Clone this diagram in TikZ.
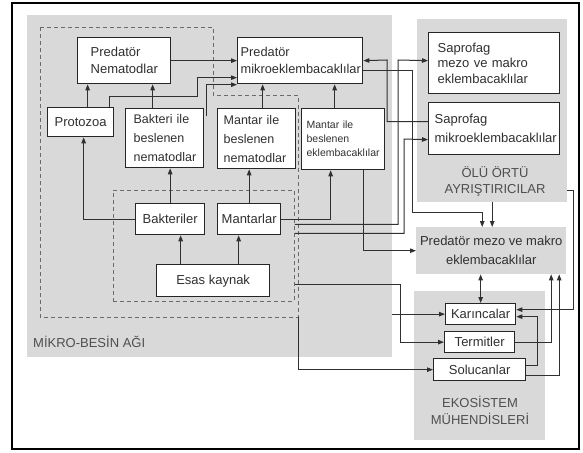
\documentclass[tikz,border=0pt]{standalone}
\usepackage{fontspec}
\setmainfont{Liberation Sans}
\usepackage{xcolor}
\usetikzlibrary{arrows.meta, positioning, calc}
\definecolor{webGray}{HTML}{D9D9D9}
\definecolor{inkDark}{HTML}{303030}
\definecolor{dashGray}{HTML}{6A6A6A}
\hyphenpenalty=10000
\exhyphenpenalty=10000
\tikzset{
    region_gray/.style={
        rectangle, fill=webGray, draw=none, inner sep=0pt, anchor=north west
    },
    box_plain/.style={
        rectangle, draw=black!85, line width=1.3pt, fill=white,
        anchor=north west, inner sep=0pt, align=center, text=inkDark,
        font=\fontsize{13}{17}\selectfont
    },
    box_left/.style={
        box_plain, align=left, inner xsep=#1
    },
    web_dash/.style={
        dash pattern=on 4pt off 3pt, draw=dashGray, line width=0.9pt
    },
    region_text/.style={
        text=inkDark!85, font=\fontsize{13}{17}\selectfont, align=center, inner sep=0pt
    },
    flow_arrow/.style={
        -{Triangle[length=6pt,width=4.5pt]}, line width=1pt, draw=inkDark
    },
    flow_both/.style={
        {Triangle[length=6pt,width=4.5pt]}-{Triangle[length=6pt,width=4.5pt]}, line width=1pt, draw=inkDark
    }
}

\begin{document}
\begin{tikzpicture}[x=1pt, y=-1pt]
    \useasboundingbox (0,0) rectangle (583,452);

    % Gray areas
    \node[region_gray, minimum width=365pt, minimum height=342pt] (mikro) at (27,15) {};
    \node[region_gray, minimum width=150pt, minimum height=183pt] (olu) at (417,19) {};
    \node[region_gray, minimum width=131pt, minimum height=149pt] (eko) at (414,291) {};

    % Dashed groups
    \draw[web_dash] (40,27) -- (213,27) -- (213,95) -- (298,95) -- (298,317) coordinate (webcorner) -- (40,317) -- cycle;
    \node[region_gray, fill=none, web_dash, minimum width=181pt, minimum height=111pt] (base) at (113,190) {};

    % Micro food web
    \node[box_left=13pt, text width=67pt, minimum width=93pt, minimum height=46pt] (pnem) at (77,37) {Predatör\\Nematodlar};
    \node[box_left=3pt, text width=119pt, minimum width=125pt, minimum height=46pt, font=\fontsize{12.8}{17}\selectfont] (pmik) at (237,37) {Predatör\\mikroeklembacaklılar};
    \node[box_plain, minimum width=66pt, minimum height=29pt] (proto) at (47,107) {Protozoa};
    \node[box_left=8pt, text width=62pt, minimum width=78pt, minimum height=59pt, font=\fontsize{12.5}{19}\selectfont] (bnem) at (125,108) {Bakteri ile\\beslenen\\nematodlar};
    \node[box_left=6pt, text width=66pt, minimum width=78pt, minimum height=60pt, font=\fontsize{12.5}{19}\selectfont] (mnem) at (217,108) {Mantar ile\\beslenen\\nematodlar};
    \node[box_left=5pt, text width=73pt, minimum width=83pt, minimum height=61pt, font=\fontsize{10.5}{14}\selectfont] (mekl) at (301,108) {Mantar ile\\beslenen\\eklembacaklılar};
    \node[box_plain, minimum width=69pt, minimum height=31pt] (bakt) at (135,203) {Bakteriler};
    \node[box_plain, minimum width=63pt, minimum height=31pt] (mant) at (217,203) {Mantarlar};
    \node[box_plain, minimum width=113pt, minimum height=32pt] (esas) at (156,264) {Esas kaynak};
    \node[region_text, anchor=west] (mikrolbl) at (33,342) {MİKRO-BESİN AĞI};

    % Litter decomposers
    \node[box_left=9pt, text width=113pt, minimum width=131pt, minimum height=61pt, font=\fontsize{13}{15.5}\selectfont] (smezo) at (428,32) {Saprofag\\mezo ve makro\\eklembacaklılar};
    \node[box_left=6pt, text width=119pt, minimum width=131pt, minimum height=52pt, font=\fontsize{13}{19}\selectfont] (smik) at (428,102) {Saprofag\\mikroeklembacaklılar};
    \node[region_text, font=\fontsize{13}{16}\selectfont] (olulbl) at (495,181) {ÖLÜ ÖRTÜ\\AYRIŞTIRICILAR};

    % Predators and ecosystem engineers
    \node[region_gray, minimum width=150pt, minimum height=47pt, align=center, text=inkDark, font=\fontsize{13}{19}\selectfont] (pmezo) at (416,227) {Predatör mezo ve makro\\eklembacaklılar};
    \node[box_plain, minimum width=70pt, minimum height=21pt] (kar) at (445,303) {Karıncalar};
    \node[box_plain, minimum width=70pt, minimum height=21pt] (term) at (444,331) {Termitler};
    \node[box_plain, minimum width=92pt, minimum height=22pt] (soluc) at (433,358) {Solucanlar};
    \node[region_text, font=\fontsize{13}{17}\selectfont] (ekolbl) at (480,410) {EKOSİSTEM\\MÜHENDİSLERİ};

    % Straight links inside the web
    \draw[flow_arrow] ([xshift=7pt]proto.north) -- ([xshift=7pt]proto.north |- pnem.south);
    \draw[flow_arrow] ([xshift=-12pt]bnem.north) -- ([xshift=-12pt]bnem.north |- pnem.south);
    \draw[flow_arrow] (pnem.east) -- (pnem.east -| pmik.west);
    \draw[flow_arrow] (bakt.north) -- (bakt.north |- bnem.south);
    \draw[flow_arrow] (mant.north) -- (mant.north |- mnem.south);
    \draw[flow_arrow] ([xshift=-32.5pt]esas.north) -- ([xshift=-32.5pt]esas.north |- bakt.south);
    \draw[flow_arrow] ([xshift=25.5pt]esas.north) -- ([xshift=25.5pt]esas.north |- mant.south);
    \draw[flow_arrow] ([xshift=6pt]mnem.north) -- ([xshift=6pt]mnem.north |- pmik.south);
    \draw[flow_arrow] ([xshift=-8.5pt]mekl.north) -- ([xshift=-8.5pt]mekl.north |- pmik.south);

    % Elbow links
    \draw[flow_arrow] ($(proto.north east)+(-5,0)$) |- (197,96) |- ($(pmik.west)+(0,17)$);
    \draw[flow_arrow] ($(bnem.north east)+(2,8)$) |- ($(pmik.west)+(0,24)$);
    \draw[flow_arrow] (bakt.west) -| ([xshift=3pt]proto.south);
    \draw[flow_arrow] (mant.east) -| ([xshift=-12.5pt]mekl.south);
    \draw[flow_arrow] ([xshift=20.5pt]mekl.south) |- (pmezo.west);
    \draw[flow_arrow] ($(pmik.east)+(0,10)$) -| (412,212) -| ([xshift=-9pt]pmezo.north);
    \draw[flow_arrow] ($(smik.west)+(0,-7)$) -| (387,60) -- (pmik.east);
    \draw[flow_arrow] ($(base.east)+(0,-21.5)$) -| (398,60) -- ($(smezo.west)+(0,-2.5)$);
    \draw[flow_arrow] ($(base.east)+(0,-12.5)$) -| (404,139) -- ($(smik.west)+(0,11)$);
    \draw[flow_arrow] ($(base.east)+(0,38.5)$) -| ($(term.west)+(-44,0)$) -- (term.west);
    \draw[flow_arrow] (webcorner) |- (soluc.west);
    \draw[flow_arrow] (kar.west -| mikro.east) -- (kar.west);

    % Right side links
    \draw[flow_arrow] (olu.south) -- (olu.south |- pmezo.north);
    \draw[flow_arrow] ($(olu.east)+(0,79.5)$) -- ++(6,0) |- ($(kar.east)+(0,-4.5)$);
    \draw[flow_both] (pmezo.south -| kar.north) -- (kar.north);
    \draw[flow_arrow] (term.east) -| ([xshift=60pt]pmezo.south);
    \draw[flow_arrow] ($(soluc.east)+(0,6)$) -| ([xshift=68pt]pmezo.south);
    \draw[flow_arrow] ($(soluc.east)+(0,-4)$) -- ++(11,0) |- ($(kar.east)+(0,2.5)$);

    % Frame
    \draw[line width=1.6pt] (12,3) rectangle (579,449);
\end{tikzpicture}
\end{document}
